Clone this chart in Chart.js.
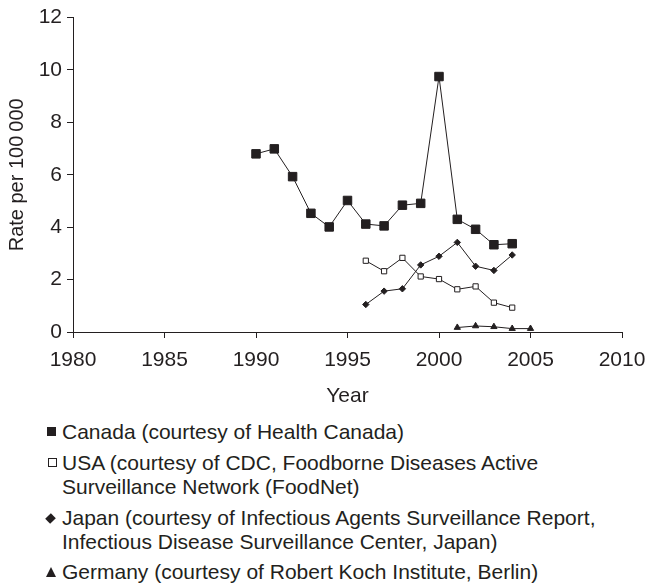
<!DOCTYPE html>
<html>
<head>
<meta charset="utf-8">
<script src="https://cdn.jsdelivr.net/npm/chart.js@4/dist/chart.umd.min.js"></script>
<style>
  html, body { margin: 0; padding: 0; background: #fff; }
  #wrap { position: relative; width: 647px; height: 585px; font-family: "Liberation Sans", Arial, sans-serif; color: #231f20; }
  #plot { position: absolute; left: 0; top: 0; }
  .lg { position: absolute; left: 62px; font-size: 21px; line-height: 24px; white-space: nowrap; }
  .mk { position: absolute; box-sizing: border-box; }
  .sq { width: 9px; height: 9px; background: #231f20; }
  .osq { width: 9px; height: 9px; background: #fff; border: 1px solid #231f20; }
  .dia { width: 7px; height: 7px; background: #231f20; transform: rotate(45deg) scaleY(1.15); }
  .tri { width: 0; height: 0; border-left: 5px solid transparent; border-right: 5px solid transparent; border-bottom: 10px solid #231f20; }
</style>
</head>
<body>
<div id="wrap">
  <canvas id="plot" width="647" height="410"></canvas>
  <div class="mk sq" style="left:47px;top:427px"></div>
  <div class="lg" style="top:420px">Canada (courtesy of Health Canada)</div>
  <div class="mk osq" style="left:48px;top:458px"></div>
  <div class="lg" style="top:451px">USA (courtesy of CDC, Foodborne Diseases Active<br>Surveillance Network (FoodNet)</div>
  <div class="mk dia" style="left:47px;top:515px"></div>
  <div class="lg" style="top:506px">Japan (courtesy of Infectious Agents Surveillance Report,<br>Infectious Disease Surveillance Center, Japan)</div>
  <div class="mk tri" style="left:46px;top:567px"></div>
  <div class="lg" style="top:560px">Germany (courtesy of Robert Koch Institute, Berlin)</div>
</div>
<script>
// Reported rates per 100 000 population, by year
const canadaYears  = [1990, 1991, 1992, 1993, 1994, 1995, 1996, 1997, 1998, 1999, 2000, 2001, 2002, 2003, 2004];
const canadaRate   = [6.80, 6.99, 5.93, 4.53, 4.01, 5.02, 4.12, 4.05, 4.84, 4.91, 9.75, 4.30, 3.92, 3.33, 3.37];
const usaYears     = [1996, 1997, 1998, 1999, 2000, 2001, 2002, 2003, 2004];
const usaRate      = [2.72, 2.32, 2.83, 2.12, 2.02, 1.63, 1.74, 1.12, 0.93];
const japanYears   = [1996, 1997, 1998, 1999, 2000, 2001, 2002, 2003, 2004];
const japanRate    = [1.05, 1.56, 1.65, 2.56, 2.89, 3.42, 2.51, 2.35, 2.94];
const germanyYears = [2001, 2002, 2003, 2004, 2005];
const germanyRate  = [0.17, 0.23, 0.20, 0.13, 0.13];

const yearTicks = [1980, 1985, 1990, 1995, 2000, 2005, 2010];
const rateTicks = [0, 2, 4, 6, 8, 10, 12];

const ink = '#231f20';
const fontFamily = '"Liberation Sans", Arial, sans-serif';

function points(xs, ys) {
  return xs.map((x, i) => ({ x: x, y: ys[i] }));
}

function series(label, xs, ys, style) {
  return Object.assign({
    label: label,
    data: points(xs, ys),
    borderColor: ink,
    borderWidth: 1,
    tension: 0,
    pointBorderColor: ink,
    pointBorderWidth: 1,
    clip: false
  }, style);
}

new Chart(document.getElementById('plot'), {
  type: 'line',
  data: {
    datasets: [
      series('Canada', canadaYears, canadaRate, { pointStyle: 'rect', pointRadius: 6, pointBackgroundColor: ink }),
      series('USA', usaYears, usaRate, { pointStyle: 'rect', pointRadius: 3.7, pointBackgroundColor: '#fff' }),
      series('Japan', japanYears, japanRate, { pointStyle: 'rectRot', pointRadius: 3.2, pointBackgroundColor: ink }),
      series('Germany', germanyYears, germanyRate, { pointStyle: 'triangle', pointRadius: 3.6, pointBackgroundColor: ink })
    ]
  },
  options: {
    responsive: false,
    animation: false,
    events: [],
    layout: { padding: { top: 15, right: 25, bottom: 0, left: 0 } },
    plugins: { legend: { display: false }, tooltip: { enabled: false } },
    scales: {
      x: {
        type: 'linear',
        min: yearTicks[0],
        max: yearTicks[yearTicks.length - 1],
        afterBuildTicks: s => { s.ticks = yearTicks.map(v => ({ value: v })); },
        afterFit: s => { s.height = 410 - 332; s.paddingLeft = 0; s.paddingRight = 0; },
        ticks: { color: ink, font: { family: fontFamily, size: 21 }, padding: 10, maxRotation: 0, callback: v => String(v) },
        grid: { drawOnChartArea: false, drawTicks: true, tickLength: 6, color: ink },
        border: { display: true, color: ink, width: 1 },
        title: { display: true, text: 'Year', color: ink, font: { family: fontFamily, size: 21 }, padding: { top: 0, bottom: 1 } }
      },
      y: {
        type: 'linear',
        min: rateTicks[0],
        max: rateTicks[rateTicks.length - 1],
        afterBuildTicks: s => { s.ticks = rateTicks.map(v => ({ value: v })); },
        afterFit: s => { s.width = 73; },
        ticks: { color: ink, font: { family: fontFamily, size: 21 }, padding: 5 },
        grid: { drawOnChartArea: false, drawTicks: true, tickLength: 6, color: ink },
        border: { display: true, color: ink, width: 1 },
        title: { display: true, text: 'Rate per 100\u2009000', color: ink, font: { family: fontFamily, size: 20 }, padding: { top: 5, bottom: 0 } }
      }
    }
  }
});
</script>
</body>
</html>
